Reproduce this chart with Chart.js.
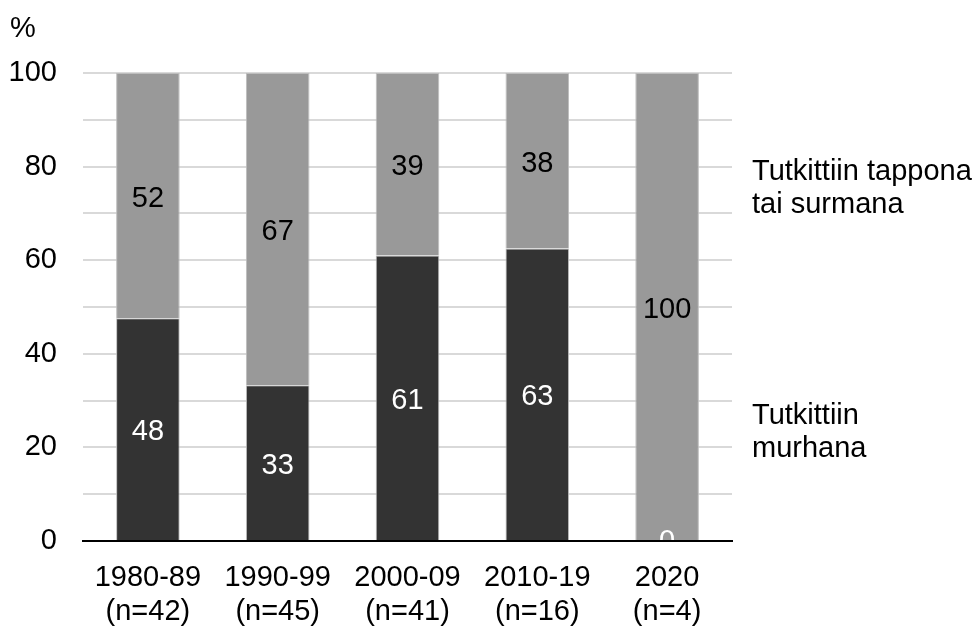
<!DOCTYPE html>
<html>
<head>
<meta charset="utf-8">
<script src="https://cdn.jsdelivr.net/npm/chart.js@4/dist/chart.umd.min.js"></script>
<style>
  html, body { margin: 0; padding: 0; background: #fff; }
  #wrap { width: 974px; height: 626px; position: relative; }
</style>
</head>
<body>
<div id="wrap"><canvas id="murhaChart"></canvas></div>
<script>
// luokat ja osuudet (%)
const categories = [['1980-89', '(n=42)'], ['1990-99', '(n=45)'], ['2000-09', '(n=41)'], ['2010-19', '(n=16)'], ['2020', '(n=4)']];
const murhana = [47.6, 33.3, 61.0, 62.5, 0];
const tappona = [52.4, 66.7, 39.0, 37.5, 100];
const yTicks = [0, 20, 40, 60, 80, 100];
const seriesNames = [['Tutkittiin', 'murhana'], ['Tutkittiin tappona', 'tai surmana']];

const FONT = '"Liberation Sans", Arial, sans-serif';
const FSIZE = 29;

// arvot palkkien keskelle
const segmentLabels = {
    id: 'segmentLabels',
    afterDatasetsDraw(chart) {
        const ctx = chart.ctx;
        const a = chart.chartArea;
        ctx.save();
        ctx.beginPath();
        ctx.rect(a.left, a.top, a.right - a.left, a.bottom - a.top);
        ctx.clip();
        ctx.font = FSIZE + 'px ' + FONT;
        ctx.textAlign = 'center';
        ctx.textBaseline = 'middle';
        chart.data.datasets.forEach(function (ds, i) {
            chart.getDatasetMeta(i).data.forEach(function (bar, j) {
                const p = bar.getProps(['x', 'y', 'base'], true);
                // nollapalkin arvo jää akselin taakse puoliksi
                const off = ds.data[j] === 0 ? 1 : 3;
                ctx.fillStyle = ds.labelColor;
                ctx.fillText(Math.round(ds.data[j]), p.x, (p.y + p.base) / 2 + off);
            });
        });
        ctx.restore();
    }
};

// sarjojen nimet oikealle ja % yläkulmaan
const sideTexts = {
    id: 'sideTexts',
    afterDraw(chart) {
        const ctx = chart.ctx;
        const y = chart.scales.y;
        ctx.save();
        ctx.font = FSIZE + 'px ' + FONT;
        ctx.fillStyle = '#000';
        ctx.textAlign = 'left';
        ctx.textBaseline = 'middle';
        ctx.fillText('%', 10, 29);
        const lineH = 33;
        const x0 = chart.chartArea.right + 20;
        // murhana alempana, tappona ylempänä
        const c1 = y.getPixelForValue(23.3);
        seriesNames[0].forEach(function (t, k) {
            ctx.fillText(t, x0, c1 + (k - 0.5) * lineH + 1);
        });
        const c2 = y.getPixelForValue(75.6);
        seriesNames[1].forEach(function (t, k) {
            ctx.fillText(t, x0, c2 + (k - 0.5) * lineH + 1);
        });
        ctx.restore();
    }
};

const ctx = document.getElementById('murhaChart').getContext('2d');
const murhaChart = new Chart(ctx, {
    type: 'bar',
    data: {
        labels: categories,
        datasets: [{
            label: 'Tutkittiin murhana',
            data: murhana,
            backgroundColor: '#333333',
            borderColor: '#bdbdbd',
            borderWidth: 1,
            labelColor: '#ffffff',
            barPercentage: 0.49,
            categoryPercentage: 1
        }, {
            label: 'Tutkittiin tappona tai surmana',
            data: tappona,
            backgroundColor: '#999999',
            borderColor: '#bdbdbd',
            borderWidth: 1,
            labelColor: '#000000',
            barPercentage: 0.49,
            categoryPercentage: 1
        }]
    },
    options: {
        responsive: true,
        maintainAspectRatio: false,
        animation: false,
        layout: { padding: { top: 73, right: 242, left: 0, bottom: 0 } },
        plugins: {
            legend: { display: false },
            tooltip: { enabled: false }
        },
        scales: {
            x: {
                stacked: true,
                grid: { display: false, drawTicks: false },
                border: { display: true, color: '#000', width: 2, z: 1 },
                ticks: { color: '#000', font: { family: FONT, size: FSIZE, lineHeight: 1.17 }, padding: 20, maxRotation: 0 },
                afterFit: function (s) { s.height = 85; }
            },
            y: {
                stacked: true,
                min: 0,
                max: 100,
                grid: { color: '#d9d9d9', lineWidth: 2, drawTicks: false },
                border: { display: false },
                ticks: {
                    stepSize: 10,
                    color: '#000',
                    padding: 26,
                    font: { family: FONT, size: FSIZE },
                    callback: function (v) { return yTicks.includes(v) ? v : ''; }
                },
                afterFit: function (s) { s.width = 83; }
            }
        }
    },
    plugins: [segmentLabels, sideTexts]
});
</script>
</body>
</html>
